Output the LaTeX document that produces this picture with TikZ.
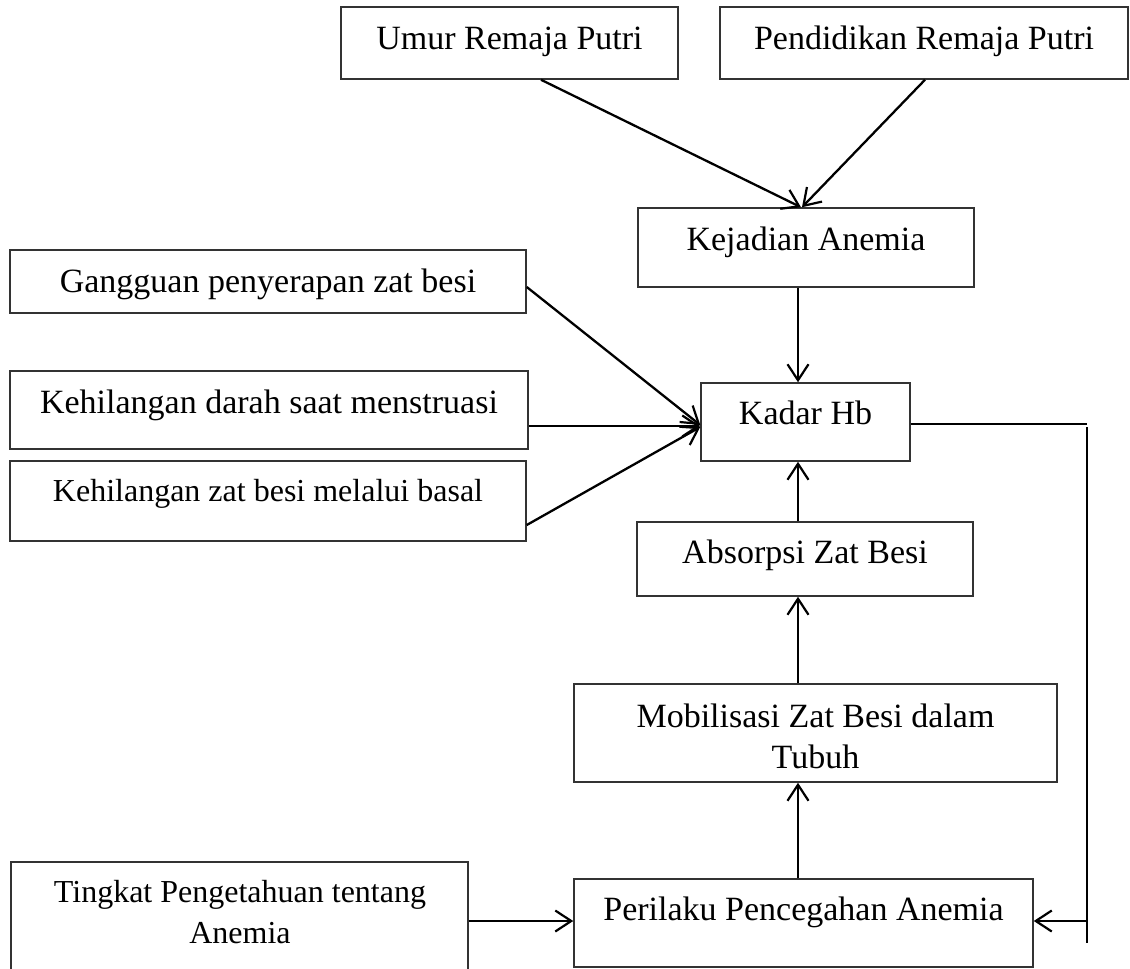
\documentclass[tikz,border=0pt]{standalone}
\usepackage{fontspec}
\setmainfont{Liberation Serif}
\usetikzlibrary{arrows.meta}
\tikzset{
  box/.style={draw=black!80, line width=1.5pt, rectangle, inner sep=0pt},
  lbl/.style={anchor=base, inner sep=0pt, font=\fontsize{34}{41}\selectfont},
  lbls/.style={lbl, font=\fontsize{32}{41}\selectfont},
  conn/.style={line width=2.3pt, draw=black},
  arr/.style={conn, -{Straight Barb[length=16pt,width=21pt,line width=2.2pt]}},
}
\begin{document}
\begin{tikzpicture}[x=1pt,y=-1pt]
\fill[white] (0,0) rectangle (1130,969);
\useasboundingbox (0,0) rectangle (1130,969);

% boxes
\node[box, minimum width=337pt, minimum height=72pt] (umur) at (509.5,43) {};
\node[box, minimum width=408pt, minimum height=72pt] (pend) at (924,43) {};
\node[box, minimum width=336pt, minimum height=79pt] (kej) at (806,247.5) {};
\node[box, minimum width=516pt, minimum height=63pt] (gang) at (268,281.5) {};
\node[box, minimum width=518pt, minimum height=78pt] (darah) at (269,410) {};
\node[box, minimum width=516pt, minimum height=80pt] (basal) at (268,501) {};
\node[box, minimum width=209pt, minimum height=78pt] (kadar) at (805.5,422) {};
\node[box, minimum width=336pt, minimum height=74pt] (absz) at (805,559) {};
\node[box, minimum width=483pt, minimum height=98pt] (mob) at (815.5,733) {};
\node[box, minimum width=457pt, minimum height=113pt] (ting) at (239.5,918.5) {};
\node[box, minimum width=459pt, minimum height=88pt] (peril) at (803.5,923) {};

% texts
\node[lbl] (umur-t) at (509.5,49) {Umur Remaja Putri};
\node[lbl] (pend-t) at (924,49) {Pendidikan Remaja Putri};
\node[lbl] (kej-t) at (806,250) {Kejadian Anemia};
\node[lbl] (gang-t) at (268,292) {Gangguan penyerapan zat besi};
\node[lbl] (darah-t) at (269,413) {Kehilangan darah saat menstruasi};
\node[lbls] (basal-t) at (268,501) {Kehilangan zat besi melalui basal};
\node[lbl] (kadar-t) at (805.5,424) {Kadar Hb};
\node[lbl] (absz-t) at (805,563) {Absorpsi Zat Besi};
\node[lbl] (mob-t1) at (815.5,727) {Mobilisasi Zat Besi dalam};
\node[lbl] (mob-t2) at (815.5,768) {Tubuh};
\node[lbls] (ting-t1) at (240,902) {Tingkat Pengetahuan tentang};
\node[lbls] (ting-t2) at (240,943) {Anemia};
\node[lbl] (peril-t) at (803.5,920) {Perilaku Pencegahan Anemia};

% helper coordinates
\coordinate (vx) at (798,0);
\coordinate (hy) at (0,921);
\coordinate (c1) at (1087,424);
\coordinate (c2top) at (1087,427);
\coordinate (c2bot) at (1087,943);

% connectors
\draw[arr] ([xshift=31.5pt]umur.south) -- ([xshift=-5pt]kej.north);
\draw[arr] ([xshift=1pt]pend.south) -- ([xshift=-4pt]kej.north);
\draw[arr] (kej.south -| vx) -- (kadar.north -| vx);
\draw[arr] ([yshift=-5.5pt]gang.east) -- ([yshift=-3pt]kadar.west);
\draw[arr] ([yshift=-16pt]darah.east) -- ([yshift=-4pt]kadar.west);
\draw[arr] ([yshift=-24pt]basal.east) -- ([yshift=-5pt]kadar.west);
\draw[arr] (absz.north -| vx) -- (kadar.south -| vx);
\draw[arr] (mob.north -| vx) -- (absz.south -| vx);
\draw[arr] (peril.north -| vx) -- (mob.south -| vx);
\draw[arr] (ting.east |- hy) -- (peril.west |- hy);
\draw[conn, line width=1.8pt] (kadar.east |- c1) -- (c1);
\draw[conn] (c2top) -- (c2bot);
\draw[arr] (c2bot |- hy) -- (peril.east |- hy);
\end{tikzpicture}
\end{document}
